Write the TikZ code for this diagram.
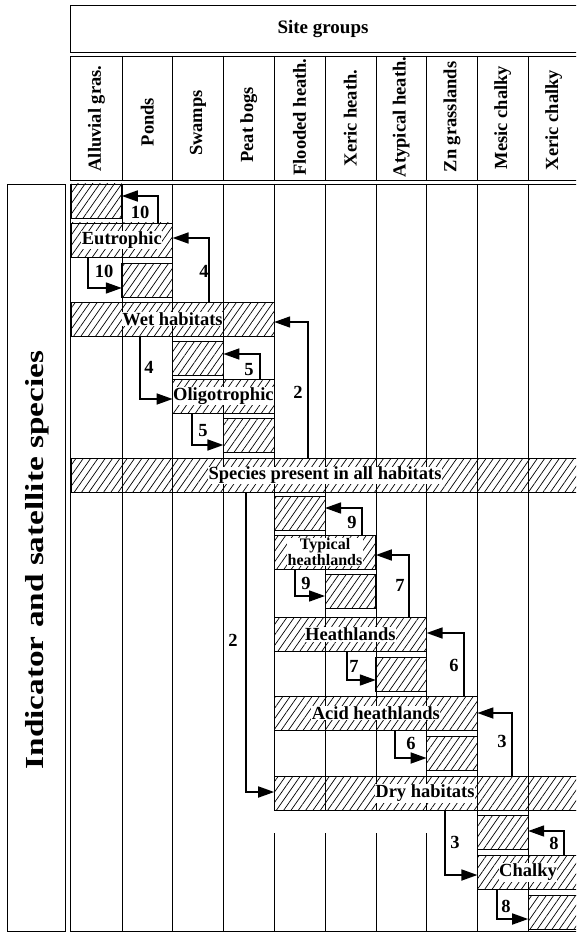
\documentclass[tikz,border=0pt]{standalone}
\usepackage{fontspec}
\setmainfont{Liberation Serif}
\usetikzlibrary{patterns.meta,arrows.meta}
\tikzset{
  bar/.style={draw, line width=0.9pt, pattern={Lines[angle=55,distance=6pt,line width=0.7pt]},
    minimum height=34pt, inner sep=0pt, outer sep=0pt, anchor=north west},
  lab/.style={fill=white, inner sep=0.6pt, font=\fontsize{18.5}{20}\selectfont\bfseries},
  hdr/.style={rotate=90, inner sep=0pt, font=\fontsize{18.5}{20}\selectfont\bfseries},
  num/.style={inner sep=0pt, font=\fontsize{18.5}{20}\selectfont\bfseries},
  flow/.style={line width=1.7pt, -{Triangle[length=16pt,width=11pt]}},
  gridline/.style={line width=0.6pt},
  frame/.style={line width=0.8pt},
}
\begin{document}
\begin{tikzpicture}[x=1pt,y=-1pt]
\useasboundingbox (0,0) rectangle (576,933);
\clip (0,0) rectangle (576,933);
% header
\draw[frame] (70.5,5) rectangle (620,52);
\node[inner sep=0pt, font=\fontsize{19}{20}\selectfont\bfseries] (sg) at (323,29) {Site groups};
\draw[frame] (70.5,56) rectangle (620,180);
\foreach \x in {121.8,172.6,223.4,274.2,325,375.8,426.6,477.4,528.2}
  \draw[gridline] (\x,56) -- (\x,180);
\node[hdr] (h1) at (96.4,118.5) {Alluvial gras.};
\node[hdr] (h2) at (147.2,122) {Ponds};
\node[hdr] (h3) at (198,123) {Swamps};
\node[hdr] (h4) at (248.8,125) {Peat bogs};
\node[hdr] (h5) at (299.6,117) {Flooded heath.};
\node[hdr] (h6) at (350.4,118) {Xeric heath.};
\node[hdr] (h7) at (401.2,117) {Atypical heath.};
\node[hdr] (h8) at (452,117) {Zn grasslands};
\node[hdr] (h9) at (502.8,117.5) {Mesic chalky};
\node[hdr] (h10) at (553.6,120) {Xeric chalky};
% left box
\draw[frame] (7,184) rectangle (65,931);
\node[rotate=90, inner sep=0pt] (side) at (37,560)
  {\scalebox{1.28}[1]{\fontsize{26}{28}\selectfont\bfseries Indicator and satellite species}};
% grid
\draw[frame] (620,184) -- (70.5,184) -- (70.5,931) -- (620,931);
\foreach \x in {121.8,172.6,223.4,528.2}
  \draw[gridline] (\x,184) -- (\x,931);
\foreach \x in {274.2,325,375.8,426.6}
  {\draw[gridline] (\x,184) -- (\x,810);
   \draw[gridline] (\x,833) -- (\x,931);}
\draw[gridline] (477.4,184) -- (477.4,931);
% bars
\node[bar, minimum width=50.8pt]  (A1)  at (71,184) {};
\node[bar, minimum width=101.6pt] (Eut) at (71,223) {};
\node[bar, minimum width=50.8pt]  (P1)  at (121.8,263) {};
\node[bar, minimum width=203.2pt] (Wet) at (71,302) {};
\node[bar, minimum width=50.8pt]  (S1)  at (172.6,341) {};
\node[bar, minimum width=101.6pt] (Oli) at (172.6,379) {};
\node[bar, minimum width=50.8pt]  (PB)  at (223.4,418.5) {};
\node[bar, minimum width=540pt]   (All) at (71,458) {};
\node[bar, minimum width=50.8pt]  (FH)  at (274.2,496) {};
\node[bar, minimum width=101.6pt] (Typ) at (274.2,535) {};
\node[bar, minimum width=50.8pt]  (XH)  at (325,574) {};
\node[bar, minimum width=152.4pt] (Hea) at (274.2,617.5) {};
\node[bar, minimum width=50.8pt]  (AH)  at (375.8,657) {};
\node[bar, minimum width=203.2pt] (Aci) at (274.2,696) {};
\node[bar, minimum width=50.8pt]  (Zn)  at (426.6,736.5) {};
\node[bar, minimum width=340pt]   (Dry) at (274.2,776.5) {};
\node[bar, minimum width=50.8pt]  (MC)  at (477.4,815) {};
\node[bar, minimum width=140pt]   (Cha) at (477.4,855.5) {};
\node[bar, minimum width=80pt]    (XC)  at (528.2,895) {};
% bar labels
\node[lab] (tEut) at (Eut.center) {Eutrophic};
\node[lab] (tWet) at (Wet.center) {Wet habitats};
\node[lab, inner xsep=0pt] (tOli) at (Oli.center) {Oligotrophic};
\node[lab] (tAll) at (325,475.5) {Species present in all habitats};
\node[lab, align=center, font=\fontsize{16}{14.5}\selectfont\bfseries] (tTyp) at (Typ.center) {Typical\\heathlands};
\node[lab] (tHea) at (Hea.center) {Heathlands};
\node[lab] (tAci) at (Aci.center) {Acid heathlands};
\node[lab] (tDry) at (425,793.5) {Dry habitats};
\node[lab] (tCha) at (528,872.5) {Chalky};
% arrows
\draw[flow] (158,0 |- Eut.north) -- (158,196) -- (158,196 -| A1.east);
\draw[flow] (88,0 |- Eut.south) -- (88,288) -- (88,288 -| P1.west);
\draw[flow] (209,0 |- Wet.north) -- (209,238) -- (209,238 -| Eut.east);
\draw[flow] (308,0 |- All.north) -- (308,322) -- (308,322 -| Wet.east);
\draw[flow] (260,0 |- Oli.north) -- (260,354) -- (260,354 -| S1.east);
\draw[flow] (140,0 |- Wet.south) -- (140,399) -- (140,399 -| Oli.west);
\draw[flow] (192,0 |- Oli.south) -- (192,445) -- (192,445 -| PB.west);
\draw[flow] (246,0 |- All.south) -- (246,792) -- (246,792 -| Dry.west);
\draw[flow] (362,0 |- Typ.north) -- (362,508) -- (362,508 -| FH.east);
\draw[flow] (295,0 |- Typ.south) -- (295,596) -- (295,596 -| XH.west);
\draw[flow] (409,0 |- Hea.north) -- (409,555) -- (409,555 -| Typ.east);
\draw[flow] (464,0 |- Aci.north) -- (464,633) -- (464,633 -| Hea.east);
\draw[flow] (347,0 |- Hea.south) -- (347,680) -- (347,680 -| AH.west);
\draw[flow] (512,0 |- Dry.north) -- (512,713) -- (512,713 -| Aci.east);
\draw[flow] (395,0 |- Aci.south) -- (395,758) -- (395,758 -| Zn.west);
\draw[flow] (564,0 |- Cha.north) -- (564,831) -- (564,831 -| MC.east);
\draw[flow] (445,0 |- Dry.south) -- (445,875) -- (445,875 -| Cha.west);
\draw[flow] (497,0 |- Cha.south) -- (497,919) -- (497,919 -| XC.west);
% numbers
\node[num] (n1) at (140,212.5) {10};
\node[num] (n2) at (104,271) {10};
\node[num] (n3) at (204,271) {4};
\node[num] (n4) at (298,392) {2};
\node[num] (n5) at (249,370) {5};
\node[num] (n6) at (149,367) {4};
\node[num] (n7) at (203,431) {5};
\node[num] (n8) at (233,640) {2};
\node[num] (n9) at (352,522) {9};
\node[num] (n10) at (306,583) {9};
\node[num] (n11) at (400,585) {7};
\node[num] (n12) at (454,665) {6};
\node[num] (n13) at (354,666) {7};
\node[num] (n14) at (502,741) {3};
\node[num] (n15) at (411,743) {6};
\node[num] (n16) at (554,843) {8};
\node[num] (n17) at (455,842) {3};
\node[num] (n18) at (506,906) {8};
\end{tikzpicture}
\end{document}
